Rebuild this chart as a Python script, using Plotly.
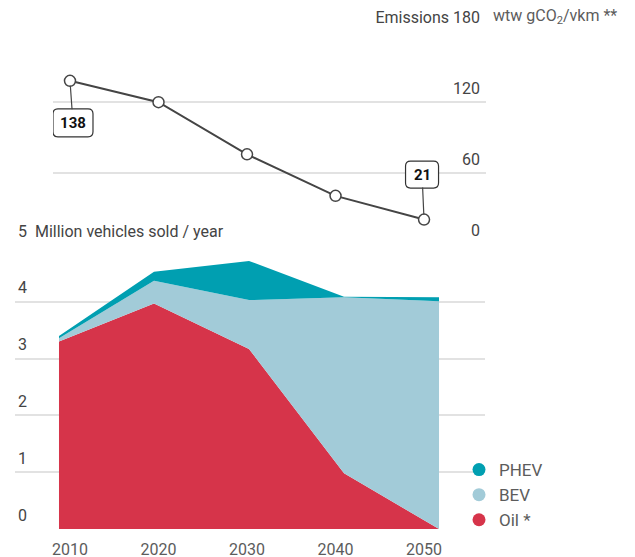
import plotly.graph_objects as go

# ---- data ----
years = [2010, 2020, 2030, 2040, 2050]
emissions = [138, 120, 76, 41, 21]          # wtw gCO2/vkm
oil = [3.30, 3.97, 3.17, 0.98, 0.0]          # million vehicles sold / year
bev = [0.06, 0.40, 0.86, 3.10, 4.01]
phev = [0.04, 0.16, 0.69, 0.01, 0.07]

emis_ticks = [0, 60, 120, 180]
emis_ticktext = ["0", "60", "120", "Emissions 180"]
sales_ticks = [0, 1, 2, 3, 4, 5]
sales_ticktext = ["0", "1", "2", "3", "4", "5  Million vehicles sold / year"]
emis_unit = "wtw gCO<sub>2</sub>/vkm **"
callout_years = [2010, 2050]

series = [("Oil *", oil, "#d6344a"), ("BEV", bev, "#a2cbd8"), ("PHEV", phev, "#009fb1")]

FONT = "Roboto, sans-serif"
TXT = "#5c5c5c"
GRID = "#e2e2e2"
LINE = "#454545"
W, H = 635, 557
OFF = 8  # page body margin


def px(x):
    return (x - OFF) / W


def py(y):
    return 1 - (y - OFF) / H


def rounded_box(x0, x1, y0, y1, r):
    # pixel path (relative to anchor), y positive up; y0 top, y1 bottom
    return (f"M {x0 + r},{y0} L {x1 - r},{y0} Q {x1},{y0} {x1},{y0 - r} "
            f"L {x1},{y1 + r} Q {x1},{y1} {x1 - r},{y1} L {x0 + r},{y1} "
            f"Q {x0},{y1} {x0},{y1 + r} L {x0},{y0 - r} Q {x0},{y0} {x0 + r},{y0} Z")


fig = go.Figure()

# stacked areas (bottom chart)
for name, vals, col in series:
    fig.add_trace(go.Scatter(
        x=years, y=vals, stackgroup="sales", mode="lines",
        line=dict(width=0, color=col), fillcolor=col,
        xaxis="x2", yaxis="y2", showlegend=False, name=name, hoverinfo="skip"))

# legend entries with circular markers
for name, vals, col in reversed(series):
    fig.add_trace(go.Scatter(
        x=[None], y=[None], mode="markers", name=name,
        marker=dict(size=13, color=col), xaxis="x2", yaxis="y2"))

# emissions line (top chart)
fig.add_trace(go.Scatter(
    x=years, y=emissions, mode="lines+markers",
    line=dict(color=LINE, width=2),
    marker=dict(size=11, color="white", line=dict(color=LINE, width=1.5)),
    xaxis="x", yaxis="y", showlegend=False, cliponaxis=False))

annotations = []
shapes = []
for yr in callout_years:
    val = emissions[years.index(yr)]
    up = yr == callout_years[-1]
    ax, ay = (-2, -45) if up else (3, 42)
    bw, bh = (33, 27) if up else (40, 28)
    cx, cy = ax, -ay
    shapes.append(dict(
        type="path", xref="x", yref="y", xsizemode="pixel", ysizemode="pixel",
        xanchor=yr, yanchor=val,
        path=rounded_box(cx - bw / 2, cx + bw / 2, cy + bh / 2, cy - bh / 2, 5),
        line=dict(color="#333333", width=1.2), fillcolor="white", layer="above"))
    annotations.append(dict(
        x=yr, y=val, xref="x", yref="y",
        text=f"<b>{val}</b>", showarrow=True, arrowhead=0,
        arrowcolor=LINE, arrowwidth=1.2, standoff=5,
        ax=ax, ay=ay, width=bw - 2, height=bh - 2, borderpad=0,
        font=dict(family=FONT, size=15, color="#111111")))
annotations.append(dict(
    x=px(491), y=py(17), xref="paper", yref="paper", xanchor="left", yanchor="middle",
    text=emis_unit, showarrow=False, font=dict(family=FONT, size=16, color=TXT)))

common_y = dict(ticklabelposition="inside", ticklabeloverflow="allow", ticklabelshift=-14,
                showgrid=True, gridcolor=GRID, gridwidth=1.5, zeroline=False, ticks="",
                showline=False, automargin=False, fixedrange=True)

fig.update_layout(
    template="none",
    width=W, height=H, margin=dict(l=0, r=0, t=0, b=0, pad=0), autosize=False,
    paper_bgcolor="white", plot_bgcolor="white",
    font=dict(family=FONT, size=16, color=TXT),
    xaxis=dict(domain=[px(53), px(486)], range=[2008.08, 2057.0],
               anchor="free", position=py(529), showgrid=False, zeroline=False,
               tickvals=years, ticktext=[str(y) for y in years], ticks="",
               ticklabelstandoff=9, showline=False, automargin=False, fixedrange=True),
    yaxis=dict(domain=[py(244.5), py(31)], range=[0, 180], side="right", anchor="x",
               tickvals=emis_ticks, ticktext=emis_ticktext, ticklabelstandoff=3, **common_y),
    xaxis2=dict(domain=[px(15), px(485)], range=[2005.37, 2054.84], anchor="y2",
                showticklabels=False, showgrid=False, zeroline=False, ticks="",
                showline=False, automargin=False, fixedrange=True),
    yaxis2=dict(domain=[py(529), py(245)], range=[0, 5], anchor="x2",
                tickvals=sales_ticks, ticktext=sales_ticktext, ticklabelstandoff=0, **common_y),
    legend=dict(x=px(459), y=py(452), xanchor="left", yanchor="top",
                traceorder="normal", font=dict(size=17, color=TXT),
                bgcolor="rgba(0,0,0,0)", borderwidth=0, itemclick=False, tracegroupgap=0),
    annotations=annotations,
    shapes=shapes,
)

fig.write_html("out.html")
